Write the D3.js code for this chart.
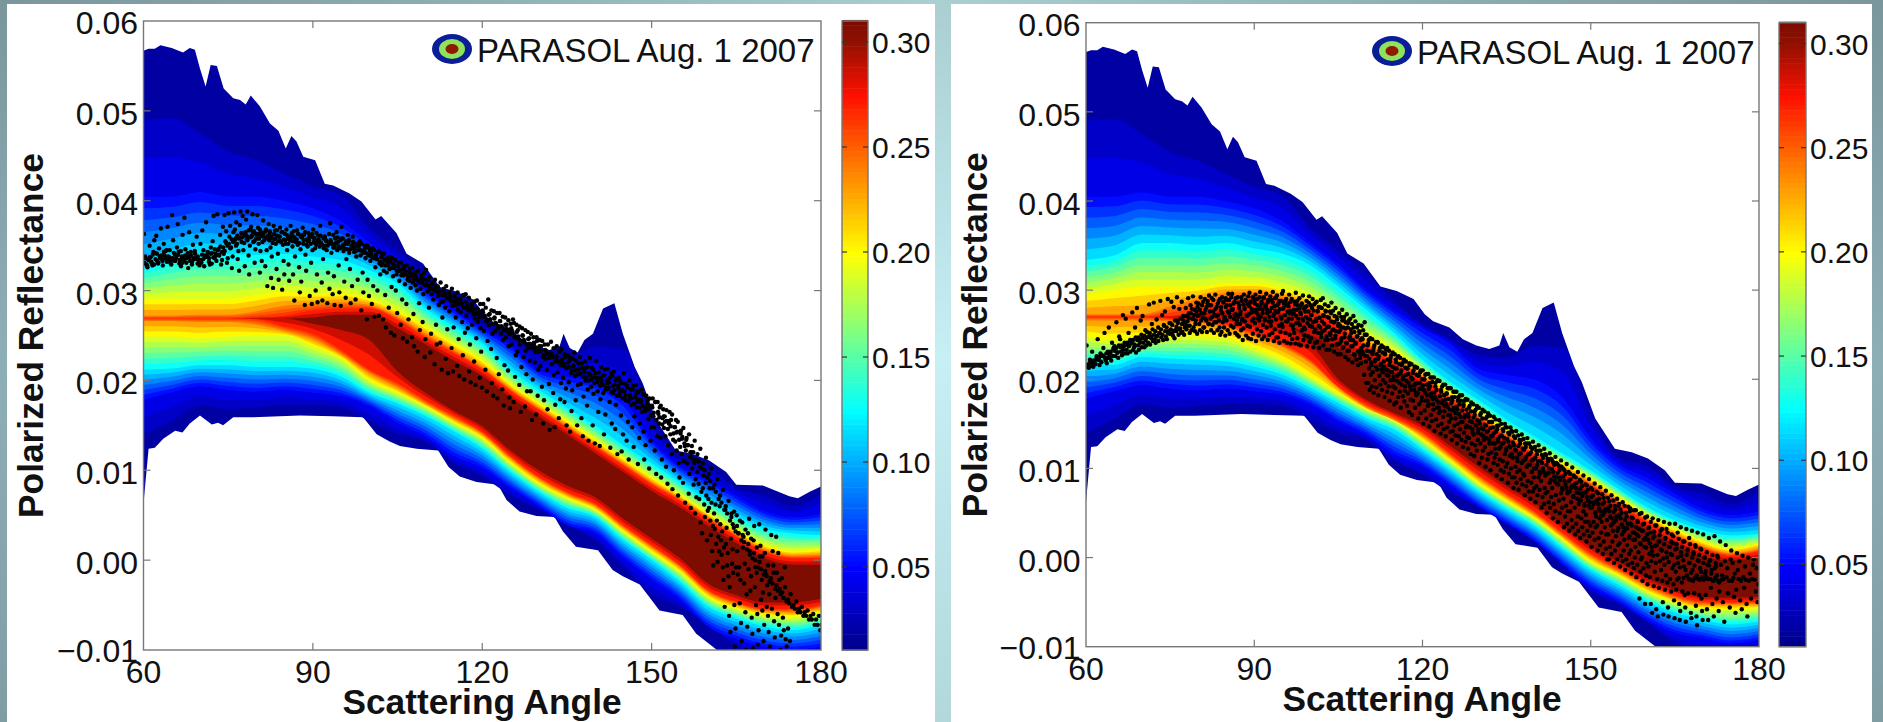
<!DOCTYPE html>
<html><head><meta charset="utf-8">
<script src="https://cdn.jsdelivr.net/npm/d3@7"></script>
<style>html,body{margin:0;padding:0;background:#bfe5ea}svg{display:block}text{font-family:"Liberation Sans",Arial,sans-serif;fill:#111}</style>
</head><body><svg id="c" width="1883" height="722"></svg>
<script>
// ---------- data ----------
const xTicks=[60,90,120,150,180];
const yTicks=[-0.01,0,0.01,0.02,0.03,0.04,0.05,0.06];
const cbTicks=[0.05,0.10,0.15,0.20,0.25,0.30];
const legendLabel="PARASOL Aug. 1 2007";
const xTitle="Scattering Angle", yTitle="Polarized Reflectance";

const envUpperA=[60,60.9,62,63,65,67,68.2,69.1,70,71,71.9,73,74.2,75.9,77.1,78.1,79,80.6,82.4,83.9,85.2,86.2,87.1,88.3,90.4,92.1,93.6,96.5,98.6,101.1,102.1,104.8,106.6,109.5,112.5,115.4,118.4,120.4,121.9,124.8,127.2,129.6,131.9,133.7,134.4,135.5,136.9,138.1,139.6,141.4,143.4,144.9,147,148.4,150.8,154.3,157.3,160.2,163.2,165,169.7,174.4,175.9,178,180];
const envUpperY=[.0567,.0569,.0569,.0573,.0570,.0565,.0570,.0568,.0547,.0527,.0551,.0550,.0525,.0514,.0512,.0507,.0517,.0505,.0486,.0478,.0458,.0472,.0466,.0449,.0445,.0419,.0417,.0408,.0399,.0379,.0383,.0364,.0341,.0330,.0304,.0299,.0290,.0273,.0265,.0258,.0245,.0238,.0234,.0238,.0252,.0236,.0231,.0245,.0252,.0280,.0286,.0252,.0215,.0197,.0156,.0122,.0118,.0111,.0098,.0084,.0083,.0071,.0069,.0076,.0082];
const envLowerA=[60,60.9,62,63.5,65.6,66.9,68.2,70,72.1,73.2,74.1,75.9,79.4,87.7,93.6,98.9,101.3,103.6,105.4,108.4,112.2,114,116,119,122.8,124.3,126.6,129.6,132.8,134.3,136.6,140.5,143.1,144.9,147.9,151.4,155.5,157.9,162.6,180];
const envLowerY=[.0063,.0124,.0125,.0135,.0144,.0142,.0152,.0161,.0151,.0153,.0150,.0159,.0159,.0161,.0160,.0159,.0140,.0132,.0127,.0124,.0122,.0104,.0093,.0087,.0084,.0067,.0054,.0049,.0048,.0032,.0015,.0011,-.0011,-.0018,-.0027,-.0056,-.0061,-.0082,-.0105,-.0105];

const levelAngles=[60,65,70,75,80,85,90,95,100,105,110,115,120,125,130,135,140,145,150,155,160,165,170,175,180];
const levelValues=[0.03,0.05,0.125,0.20,0.24,0.27,0.30];

// contour 0.03 and 0.05, upper side (same in both panels)
const up03=[.0490,.0492,.0475,.0455,.0445,.0430,.0416,.0406,.0370,.0345,.0318,.0288,.0262,.0245,.0228,.0224,.0238,.0235,.0160,.0112,.0103,.0080,.0072,.0060,.0074];
const up05=[.0405,.0405,.0410,.0405,.0405,.0400,.0392,.0378,.0354,.0330,.0301,.0278,.0258,.0240,.0212,.0205,.0200,.0180,.0135,.0105,.0090,.0072,.0055,.0048,.0052];
const lo03=[.0140,.0155,.0172,.0168,.0170,.0172,.0172,.0170,.0155,.0140,.0132,.0108,.0093,.0072,.0057,.0040,.0022,-.0008,-.0038,-.0052,-.0072,-.0095,-.0105,-.0105,-.0105];

// left panel contours
const leftUp125=[.0325,.0334,.0341,.0341,.0340,.0341,.0338,.0334,.0323,.0308,.0280,.0260,.0241,.0212,.0190,.0170,.0150,.0128,.0108,.0087,.0066,.0049,.0035,.0030,.0028];
const leftUp20=[.0291,.0291,.0291,.0291,.0295,.0299,.0297,.0297,.0291,.0278,.0260,.0241,.0223,.0196,.0175,.0155,.0134,.0113,.0092,.0073,.0052,.0033,.0017,.0010,.0012];
const leftUp24=[.0272,.0272,.0273,.0273,.0277,.0283,.0285,.0287,.0284,.0271,.0252,.0234,.0215,.0191,.0170,.0150,.0129,.0108,.0087,.0069,.0048,.0029,.0012,.0005,.0006];
const leftUp27=[.0269,.0269,.0269,.0269,.0270,.0272,.0278,.0280,.0280,.0267,.0247,.0230,.0212,.0188,.0167,.0147,.0126,.0105,.0084,.0066,.0045,.0026,.0009,.0002,.0002];
const leftUp30=[.0269,.0269,.0269,.0269,.0269,.0269,.0270,.0273,.0273,.0258,.0240,.0222,.0205,.0181,.0160,.0140,.0119,.0098,.0077,.0059,.0038,.0019,.0002,-.0005,-.0005];
const leftLo30=[.0269,.0269,.0269,.0269,.0269,.0269,.0263,.0256,.0245,.0210,.0186,.0166,.0149,.0122,.0100,.0083,.0070,.0046,.0024,.0002,-.0026,-.0039,-.0047,-.0047,-.0043];
const leftLo27=[.0269,.0269,.0269,.0269,.0268,.0260,.0252,.0234,.0212,.0197,.0178,.0161,.0143,.0116,.0093,.0076,.0063,.0039,.0017,-.0005,-.0033,-.0046,-.0054,-.0054,-.0050];
const leftLo24=[.0266,.0266,.0265,.0265,.0262,.0255,.0246,.0229,.0208,.0192,.0174,.0157,.0140,.0113,.0090,.0073,.0060,.0036,.0014,-.0008,-.0036,-.0049,-.0057,-.0058,-.0053];
const leftLo20=[.0249,.0249,.0247,.0249,.0250,.0250,.0238,.0225,.0200,.0186,.0171,.0153,.0136,.0108,.0085,.0069,.0056,.0032,.0009,-.0013,-.0041,-.0054,-.0061,-.0063,-.0058];
const leftLo125=[.0212,.0213,.0217,.0217,.0215,.0215,.0213,.0204,.0186,.0174,.0160,.0143,.0124,.0098,.0076,.0058,.0048,.0022,.0000,-.0024,-.0052,-.0065,-.0074,-.0078,-.0072];
const leftLo05=[.0178,.0186,.0193,.0189,.0187,.0189,.0186,.0182,.0171,.0152,.0137,.0115,.0102,.0080,.0060,.0039,.0030,.0002,-.0022,-.0044,-.0074,-.0088,-.0097,-.0100,-.0097];

// right panel contours
const rightUp125=[.0334,.0339,.0353,.0353,.0351,.0353,.0347,.0341,.0328,.0304,.0278,.0252,.0222,.0197,.0177,.0155,.0136,.0117,.0098,.0077,.0057,.0042,.0031,.0025,.0027];
const rightUp20=[.0295,.0300,.0304,.0304,.0304,.0308,.0308,.0302,.0291,.0272,.0250,.0233,.0209,.0185,.0164,.0143,.0123,.0106,.0089,.0068,.0048,.0032,.0018,.0010,.0016];
const rightUp24=[.0273,.0273,.0273,.0282,.0290,.0297,.0298,.0293,.0282,.0264,.0241,.0224,.0204,.0180,.0159,.0138,.0118,.0101,.0084,.0063,.0043,.0027,.0013,.0005,.0010];
const rightUp27=[.0270,.0270,.0270,.0271,.0276,.0284,.0290,.0286,.0277,.0259,.0236,.0218,.0201,.0177,.0156,.0135,.0115,.0098,.0081,.0060,.0040,.0024,.0010,.0002,.0007];
const rightUp30=[.0270,.0270,.0270,.0270,.0272,.0270,.0265,.0262,.0250,.0235,.0220,.0208,.0192,.0167,.0147,.0126,.0106,.0089,.0072,.0051,.0031,.0015,.0001,-.0003,.0000];
const rightLo30=[.0270,.0270,.0270,.0270,.0272,.0270,.0265,.0262,.0240,.0200,.0177,.0162,.0148,.0125,.0102,.0080,.0061,.0036,.0012,-.0005,-.0023,-.0036,-.0044,-.0045,-.0044];
const rightLo27=[.0270,.0270,.0270,.0268,.0266,.0262,.0252,.0240,.0222,.0192,.0172,.0158,.0141,.0117,.0093,.0072,.0052,.0028,.0005,-.0012,-.0029,-.0042,-.0049,-.0050,-.0049];
const rightLo24=[.0266,.0266,.0266,.0265,.0263,.0258,.0248,.0236,.0218,.0190,.0168,.0154,.0137,.0113,.0089,.0068,.0048,.0024,.0001,-.0016,-.0033,-.0046,-.0053,-.0053,-.0052];
const rightLo20=[.0248,.0244,.0246,.0248,.0248,.0246,.0235,.0222,.0203,.0184,.0167,.0154,.0132,.0108,.0083,.0063,.0044,.0020,-.0005,-.0020,-.0038,-.0050,-.0057,-.0058,-.0057];
const rightLo125=[.0216,.0216,.0225,.0223,.0222,.0220,.0214,.0205,.0190,.0173,.0156,.0143,.0121,.0098,.0074,.0054,.0035,.0010,-.0014,-.0031,-.0049,-.0062,-.0070,-.0075,-.0072];
const rightLo05=[.0178,.0186,.0193,.0189,.0187,.0189,.0186,.0182,.0171,.0152,.0137,.0115,.0102,.0080,.0057,.0038,.0018,-.0008,-.0033,-.0050,-.0070,-.0085,-.0091,-.0097,-.0093];

// satellite dots: one list per whole degree (60..), reflectance in units of 1e-4
const dotStart=60;
const leftDots=[
[363,338,329,326,334],[350,337,331,328,343,356],[342,361,333,330,347,336],[369,335,328,352,339,344],[345,371,334,337,331,329],[384,356,333,340,336,348],[374,343,330,334,327,338,362],[335,381,346,331,338,325],[365,333,339,329,351,336],[344,336,360,330,334,328],
[352,331,367,335,327,339],[376,338,342,332,329,348],[330,355,383,336,341,333],[385,346,339,362,329,334],[371,341,384,355,366,331,336],[386,360,372,348,325,338,365],[387,368,358,376,352,335,344,322],[373,388,364,359,383,345,353,327],[365,379,357,388,360,339,318,350,368],[371,361,385,354,366,331,346,358],
[362,384,370,352,358,320,344,365,333],[354,378,364,359,327,368,345,305],[361,374,356,366,348,314,338,358,303],[372,357,367,352,324,361,341,312],[360,370,355,365,301,351,333,318],[363,352,368,345,358,329,311,356],[372,356,364,349,318,360,289,338,354],[355,367,351,363,326,298,346,310],[359,370,352,362,284,340,322,357],[349,364,356,294,360,331,285,345],
[368,354,358,347,300,351,318,287,361],[356,349,372,353,309,289,335,347],[360,350,356,345,286,320,352,302],[375,355,342,352,296,348,316,284,358],[352,365,345,354,328,298,347,283],[371,349,358,344,310,352,292,335],[346,362,354,342,324,286,350,305],[360,347,343,352,290,338,349,312],[352,345,355,339,278,344,320,298],[343,350,336,348,268,312,340,294],
[347,333,341,285,337,305,345,271],[326,339,335,300,343,272,330,318],[342,328,337,268,322,334,295,259],[320,336,330,281,324,333,253,304],[336,316,329,250,327,300,318,275],[322,331,311,323,262,317,290,247],[317,327,307,321,285,243,312,268],[311,324,303,318,248,309,274,238],[320,306,315,300,232,311,286,256],[302,317,309,265,296,313,226,246],
[323,306,299,312,281,303,231,252],[296,309,290,301,218,305,262,240],[305,294,284,299,242,287,212,270],[288,302,297,281,224,292,257,208],[298,277,293,288,236,283,210,259],[295,284,270,290,216,279,246,205],[291,276,286,265,228,281,201,253],[296,272,283,258,278,210,240,198],[285,262,280,274,221,269,195,247],[289,265,277,270,203,258,232,192],
[278,285,255,272,212,266,188,244],[290,262,274,268,235,197,252,183],[277,270,255,263,225,180,258,207],[275,266,252,260,190,245,172,217],[270,248,262,255,211,238,181,169],[263,240,255,268,176,249,204,228],[262,232,256,246,195,240,165,215],[258,250,226,243,171,233,207,188],[254,236,247,222,188,240,156,201],[248,241,220,232,162,244,183,212],
[234,245,216,238,193,226,152,178],[240,224,233,212,168,229,196,145],[231,243,218,227,186,206,148,173],[226,238,209,221,158,233,179,197],[235,220,203,216,176,226,191,150],[214,228,198,222,143,208,166,189],[224,216,231,205,178,212,150,195],[219,207,226,196,158,214,138,182],[212,221,200,215,172,190,133,208],[225,206,193,214,150,185,203,130],
[208,222,199,188,165,203,127,179],[215,196,205,186,140,212,162,192],[200,213,191,198,176,125,208,152],[205,186,210,195,146,173,202,118],[194,203,183,199,161,121,189,140],[208,188,196,178,133,192,154,112],[200,181,190,173,148,194,126,160],[184,195,170,188,107,178,136,152],[176,190,165,185,143,112,170,128],[183,168,178,157,102,172,133,148],
[172,180,160,148,122,176,96,138],[176,163,152,170,136,92,112,158],[168,147,160,138,104,155,85,128],[152,165,140,156,118,79,134,100],[148,132,156,122,143,72,108,92],[126,144,118,137,86,110,130,64],[122,136,108,128,74,96,115,58],[120,102,113,84,108,52,90,70],[98,110,85,68,104,42,76,30],[80,94,62,48,86,72,22,55],
[68,58,80,44,28,64,10,38,-6],[52,35,62,18,44,-2,26,10],[60,40,22,6,32,-8,-22,14,-52],[56,18,36,-6,8,-18,-62,-30,-80],[24,52,-4,12,-14,36,-50,-96,-76,-8],[50,10,-16,30,-8,-48,-22,-70,-90],[42,14,26,-26,-4,-58,-100,-38,-74],[30,-10,46,6,-34,-18,-64,-82,-98],[22,38,-30,-8,-50,-14,-60,-94,-78],[40,4,16,-44,-22,-56,-36,-90,-72],
[8,34,-16,-52,-28,-62,-80,-38,-96],[-22,28,-54,10,-6,-68,-86,-42],[26,-14,-60,8,-72,-32,-100,-84],[-20,-64,-78,-8,-88,-96],[-76,-90,-102],[],[],[],[],[]
];
// the dense streak of the left panel
const leftCore=[
[331,336,328,334],[337,332,340,329],[335,341,331,338],[339,333,343,336],[332,338,345,335],[336,342,333,339],[340,334,344,331],[333,339,336,342],[337,343,332,335],[341,335,338,333],
[334,340,345,337],[338,343,336,341],[342,337,346,339],[345,340,349,343],[348,344,353,350],[352,347,357,354],[356,350,361,358],[359,354,364,361],[362,356,367,359],[360,365,355,363],
[358,363,368,361],[361,356,366,359],[357,364,360,353],[363,358,367,355],[360,354,365,357],[356,362,352,359],[361,355,366,358],[357,363,353,360],[362,356,365,351],[355,360,352,363],
[359,353,364,356],[354,361,351,358],[360,355,350,363],[356,352,362,348],[353,359,349,356],[358,351,347,355],[352,356,346,349],[354,348,344,351],[349,345,352,342],[346,342,350,339],
[344,338,347,336],[340,335,344,332],[337,331,341,328],[333,328,337,325],[330,325,334,322],[327,322,331,319],[324,319,328,316],[320,316,325,312],[317,312,322,309],[314,309,319,306],
[311,306,315,302],[307,302,312,299],[304,298,309,295],[300,295,305,291],[297,292,302,288],[293,288,298,285],[290,285,295,281],[287,281,292,278],[283,278,288,274],[280,275,285,271],
[276,271,281,267],[273,268,278,263],[269,264,275,260],[266,260,271,256],[262,257,267,252],[258,253,264,248],[254,249,260,244],[250,245,256,240],[246,241,252,236],[242,237,248,232],
[238,233,244,228],[234,230,240,225],[230,226,236,221],[227,222,232,217],[223,218,229,214],[220,215,225,211],[216,211,222,207],[213,208,219,204],[209,204,215,200],[206,201,212,197],
[203,198,209,194],[200,195,206,190],[197,192,203,187],[194,189,200,183],[191,186,197,180],[188,183,194,177],[184,180,190,174],[181,176,187,170],[178,172,184,166],[174,168,180,161],
[170,164,176,156],[165,159,172,151],[160,154,167,146],[155,149,162,141],[148,142,154,134],[141,135,147,127],[134,128,140,120],[127,120,133,112],[118,110,124,102],[108,100,114,92],
[96,88,102,80],[84,76,90,68],[72,64,78,56],[60,52,66,44],[48,40,54,32],[38,30,44,22],[28,20,34,12],[18,10,24,2],[8,0,14,-8],[-2,-10,4,-16],
[-12,-18,-6,-24],[-20,-26,-14,-32],[-28,-34,-22,-38],[-36,-42,-30,-46],[-44,-48,-38,-52],[-50,-54,-46,-58],[-54,-58,-52,-62],[-58,-62,-56,-66],[-62,-66,-60,-72],[-66,-72,-62,-78],
[-72,-78,-68,-84],[-78,-84,-74,-90],[-84,-90,-80,-96]
];
const rightDots=[
[238,216,213,222,218],[231,214,220,217,226],[245,222,216,229,219,226],[235,252,221,218,224],[258,224,230,221,241,226,235],[237,226,264,230,224,248],[245,231,227,272,237,229],[268,233,229,252,238,231],[242,275,233,236,258,230],[280,238,233,244,266,236],
[271,241,236,255,238,247],[241,284,239,248,262,243],[286,245,241,267,249,243],[252,288,247,272,244,260],[276,248,245,290,254,251],[263,287,251,249,281,246,255],[254,292,266,250,279,257,252],[287,253,271,250,262,280,256],[260,291,274,252,283,255,268],[293,258,278,254,266,286,251,271],
[285,262,255,292,274,253,269,258],[258,290,278,266,253,285,262,294],[283,268,255,291,261,276,252,272],[295,264,281,255,272,288,258,250],[277,253,292,264,286,258,270,249,281],[266,289,255,296,274,251,283,260,278],[296,279,258,268,287,252,273,262,250],[292,270,248,283,262,276,255,288,266,244],[257,295,280,265,289,249,272,260,284,246],[273,297,259,286,245,279,266,251,291,276],
[288,263,295,243,275,256,283,268,249,279,292],[298,270,254,285,245,278,261,291,248,266,282],[281,296,258,274,244,287,265,250,276,293,260],[265,289,252,298,271,243,282,256,277,291,247],[294,275,247,285,260,241,279,253,288,268,296],[259,299,280,243,272,288,252,265,283,241,276],[285,268,295,250,277,240,261,290,245,273,256],[274,252,287,240,297,263,278,246,283,268,239],[291,261,275,238,283,255,268,294,244,279,249],[256,281,270,288,237,263,248,276,293,242,267],
[283,246,272,259,290,236,277,253,265,241,286],[265,287,242,276,252,281,235,269,258,289,247],[280,254,291,238,271,262,284,244,276,233,258],[270,244,282,259,233,276,250,265,286,238,255],[277,264,231,271,246,280,254,239,267,228,260],[262,274,240,255,228,270,246,278,235,258,267],[270,251,225,264,241,273,232,258,222,266,246],[248,268,256,237,262,219,244,271,228,253,240],[265,240,222,258,248,216,261,232,252,228,244],[218,260,246,231,255,238,205,264,226,250,196],
[250,226,238,196,244,212,188,231,205,219,192],[245,208,232,185,238,199,222,214,191,228,242],[241,182,226,204,235,194,217,211,188,230,199],[236,214,180,228,196,233,205,186,222,210,192],[232,176,220,199,227,208,184,214,192,203,172],[228,190,222,174,212,198,225,180,206,217,186],[224,168,210,194,218,181,203,221,175,187,213],[220,198,170,212,184,206,163,216,192,177,202],[217,160,200,176,210,188,214,168,195,182,205],[213,184,156,204,172,196,208,162,190,176,200],
[210,150,188,200,165,205,176,156,194,182,170],[206,172,147,192,202,160,184,153,197,178,166],[202,142,180,196,155,188,168,199,148,174,162],[198,164,139,186,150,192,176,158,144,182,170],[194,136,172,184,146,190,160,178,152,166,141],[190,156,132,176,142,186,168,148,180,137,162],[186,128,166,150,180,136,172,144,158,176,132],[182,152,124,170,140,176,160,130,146,166,135],[177,122,158,134,170,146,116,164,128,152,140],[172,138,114,160,126,166,148,120,154,132,144],
[168,106,150,128,162,138,112,156,120,144,132],[164,124,102,148,134,158,110,142,116,152,128],[159,98,136,118,152,128,146,106,140,112,122],[155,116,92,144,104,130,148,122,110,136,98],[150,88,128,108,142,96,134,116,146,102,122],[146,106,84,130,94,138,114,124,100,142,90],[141,112,78,126,90,134,102,120,84,96,108],[137,76,116,98,128,88,132,106,82,122,94],[133,92,70,110,124,80,102,128,86,116,74],[128,104,66,118,84,96,122,74,110,90,78],
[124,62,100,80,116,70,108,90,120,76,94],[120,86,56,106,68,112,96,60,78,116,72],[115,50,94,74,108,62,100,84,56,111,68],[110,78,44,96,60,104,86,52,70,106,90],[105,40,82,64,98,50,90,72,102,56,76],[100,66,34,86,46,94,58,78,38,72,52],[96,30,74,52,88,62,42,80,34,68,92],[91,56,26,78,38,84,66,46,30,60,72],[87,22,64,44,80,34,72,52,26,58,40],[82,48,18,68,30,76,40,58,24,62,36],
[78,12,56,28,70,40,62,20,50,34,46],[74,36,8,60,22,66,44,14,52,28,40],[71,4,48,18,62,34,54,10,26,42,-2],[67,26,-2,52,12,58,36,4,44,18,30],[64,-6,40,8,54,24,46,-2,30,14,58],[60,16,-10,44,2,50,26,-4,34,8,20],[58,-14,32,-2,46,14,38,-8,22,4,52],[55,8,-18,36,-6,44,20,-12,28,0,12],[53,-22,26,-8,40,6,32,-46,16,-16,-2],[50,0,-26,30,-12,38,12,-52,22,-20,-6],
[46,-30,20,-10,34,4,-22,28,-52,-4,12,-62],[44,2,-32,24,-16,36,-6,-58,14,-24,-66],[42,-34,18,-4,30,-14,8,-26,-50,-64],[40,-8,-36,22,-20,32,0,-28,-56,-66,12],[38,-24,4,-38,26,-12,16,-30,-48,-68],[38,-16,-36,10,-25,28,-6,-23,-52,-70,-60],[34,2,-28,-38,18,-23,-10,-42,-56,-72],[32,-20,8,-40,-24,22,-6,-25,-62,-68],[30,-14,-26,4,-40,-23,14,-54,-66,-76],[28,-24,-4,-42,-25,10,-16,-46,-60,-70],
[26,-25,0,-18,-42,-22,-58,-8,-70],[22,-4,-24,-34,-14,-52,-26,-66],[24,-23,-10,-46,2,-26,-60,-38],[18,-8,-25,-20,-50,-24,-72,-4],[14,-22,-12,-40,-26,-56,-2],[8,-26,-6,-23,-44,-18,-62,-36],[5,-14,-24,-4,-48,-26,-58],[2,-22,-34,-10,-25,-52,-66],[0,-26,-18,-46,-24,-8],[-2,-25,-38,-12,-50,-30]
];
// the dense streak of the right panel
const rightCore=[
[214,216,218,215],[219,221,217,224],[222,225,220,227],[226,224,229,231],[228,231,226,234],[232,235,230,238],[236,238,233,241],[239,241,237,244],[241,244,239,247],[244,247,241,250],
[246,249,244,253],[248,252,246,256],[250,254,248,258],[252,256,250,261],[254,258,252,263],[256,261,254,266],[259,263,256,268],[262,266,258,271],[265,269,260,274,279],[268,272,262,276,281],
[272,278,266,283,287],[274,268,281,288,262],[276,283,270,289,264],[279,271,285,266,290],[281,274,287,268,291],[283,276,289,270,292],[278,285,272,291,266],[286,280,273,292,268],[284,279,288,271,293],[282,287,275,292,268],
[285,278,290,272,266],[281,287,274,292,268],[284,278,289,270,264],[280,286,273,291,267],[283,276,288,270,262],[279,285,272,290,265],[282,274,287,268,260],[278,284,271,288,263],[280,273,285,266,258],[276,282,268,286,260],
[272,280,264,284,256],[268,277,260,281,251],[265,272,255,277,248],[259,269,252,274,245],[256,264,249,270,239],[253,260,243,266,236],[247,257,240,263,232],[244,252,237,258,227],[241,248,231,254,224],[235,245,228,250,220],
[232,240,223,246,216],[228,235,220,242,211],[223,232,216,238,208],[220,229,211,235,204],[216,224,208,230,199],[212,219,204,226,196],[207,216,200,222,192],[205,212,196,218,188],[201,207,193,214,185],[196,204,189,210,180],
[193,200,185,206,176],[189,196,181,202,172],[185,192,177,198,168],[181,188,173,194,164],[177,184,169,190,160],[173,180,165,186,156],[169,176,161,182,152],[165,172,157,178,148],[161,168,153,174,144],[157,164,149,170,140],
[153,160,145,166,136],[149,156,141,162,132],[145,152,137,158,128],[141,148,133,154,124],[137,144,129,150,120],[133,140,125,146,116],[129,136,121,142,112],[125,132,117,138,108],[121,128,113,134,104],[116,124,109,130,100],
[112,120,104,126,96],[108,115,100,122,92],[104,111,95,117,87],[99,107,91,113,83],[95,103,87,109,78],[91,98,82,105,74],[86,94,78,101,69],[82,90,73,96,65],[77,85,69,92,60],[73,81,64,88,56],
[68,76,60,83,51],[64,72,55,79,47],[60,67,51,75,42],[55,63,46,70,38],[51,58,42,66,33],[47,54,37,62,29],[42,50,33,57,24],[38,45,28,53,20],[34,41,24,49,15],[30,37,20,45,11],
[26,33,16,40,7],[22,29,13,36,3],[18,25,9,32,-1],[15,21,6,28,-5],[12,18,3,24,-8],[9,15,0,21,-11],[6,12,-3,18,-14],[3,9,-6,15,-17],[0,6,-9,12,-20],[-3,3,-12,9,-22],
[-6,0,-15,6,-24],[-9,-3,-18,3,-26],[-12,-6,-20,0,-28]
];

// ---------- drawing ----------
const svg=d3.select('#c');
const defs=svg.append('defs');
const gx=defs.append('linearGradient').attr('id','bgx');
[[0,'#8eaeb6'],[.25,'#a6cbd2'],[.5,'#c6f0f4'],[.75,'#a6cbd2'],[1,'#8eaeb6']].forEach(s=>gx.append('stop').attr('offset',s[0]).attr('stop-color',s[1]));
const gy=defs.append('linearGradient').attr('id','bgy').attr('x2',0).attr('y2',1);
[[0,.14],[.5,0],[1,.1]].forEach(s=>gy.append('stop').attr('offset',s[0]).attr('stop-color','#000').attr('stop-opacity',s[1]));
defs.append('filter').attr('id','soft').attr('x','-2%').attr('y','-2%').attr('width','104%').attr('height','104%')
  .append('feGaussianBlur').attr('stdDeviation',.7);
svg.append('rect').attr('width',1883).attr('height',722).attr('fill','url(#bgx)');
svg.append('rect').attr('width',1883).attr('height',722).attr('fill','url(#bgy)');
svg.append('rect').attr('x',7).attr('y',4).attr('width',928).attr('height',718).attr('fill','#fff');
svg.append('rect').attr('x',951).attr('y',4).attr('width',921).attr('height',718).attr('fill','#fff');

const jet=d3.scaleLinear().domain([.0105,.048,.123,.198,.273,.30,.31]).range(['#00008c','#0000ff','#00ffff','#ffff00','#ff1000','#8c1000','#7c0a00']).clamp(true);
const subSteps=[2,6,6,3,3,2];

function panel(o){
  const x=d3.scaleLinear().domain([60,180]).range([o.left,o.right]);
  const y=d3.scaleLinear().domain([-0.01,0.06]).range([o.bottom,o.top]);
  const cb=d3.scaleLinear().domain([0.0105,0.31]).range([o.bottom,o.top]);
  const g=svg.append('g');
  const clipId='clip'+o.id;
  defs.append('clipPath').attr('id',clipId).append('rect').attr('x',o.left).attr('y',o.top).attr('width',o.right-o.left).attr('height',o.bottom-o.top);
  const field=g.append('g').attr('clip-path',`url(#${clipId})`).append('g').attr('filter','url(#soft)');
  const upPts=envUpperA.map((a,i)=>[x(a),y(envUpperY[i])]);
  const loPts=envLowerA.map((a,i)=>[x(a),y(envLowerY[i])]);
  field.append('path').attr('d',d3.line()(upPts.concat(loPts.reverse()))+'Z').attr('fill',jet(.018));
  const area=d3.area().x(d=>x(d.a)).y0(d=>y(d.lo)).y1(d=>y(d.up)).curve(d3.curveMonotoneX);
  const draw=(v,up,lo)=>field.append('path').datum(levelAngles.map((a,i)=>({a,up:up[i],lo:lo[i]}))).attr('d',area).attr('fill',jet(v));
  o.levels.forEach((L,k)=>{
    if(k===o.levels.length-1){draw(.31,L.up,L.lo);return;}
    const N=o.levels[k+1], n=subSteps[k];
    for(let s=0;s<n;s++){
      const t=s/n;
      draw(L.v+(N.v-L.v)*t,L.up.map((u,i)=>u+(N.up[i]-u)*t),L.lo.map((u,i)=>u+(N.lo[i]-u)*t));
    }
  });
  const dg=g.append('g').attr('clip-path',`url(#${clipId})`);
  o.dots.forEach(list=>list.forEach((col,i)=>col.forEach((v,k)=>{
    dg.append('circle').attr('cx',x(dotStart+i+(k+.5)/col.length)).attr('cy',y(v/1e4)).attr('r',o.r).attr('fill','#000');
  })));
  const axisC='#777';
  g.append('rect').attr('x',o.left).attr('y',o.top).attr('width',o.right-o.left).attr('height',o.bottom-o.top).attr('fill','none').attr('stroke',axisC).attr('stroke-width',1.4);
  const tk=(x1,y1,x2,y2)=>g.append('line').attr('x1',x1).attr('y1',y1).attr('x2',x2).attr('y2',y2).attr('stroke',axisC).attr('stroke-width',1.2);
  xTicks.slice(1,-1).forEach(v=>{tk(x(v),o.bottom,x(v),o.bottom-7);tk(x(v),o.top,x(v),o.top+7);});
  yTicks.slice(1,-1).forEach(v=>{tk(o.left,y(v),o.left+7,y(v));tk(o.right,y(v),o.right-7,y(v));});
  xTicks.forEach(v=>g.append('text').attr('x',x(v)).attr('y',o.bottom+33).attr('text-anchor','middle').attr('font-size',32).text(v));
  yTicks.forEach(v=>g.append('text').attr('x',o.left-5.5).attr('y',y(v)+(v===0.06?13:(v===-0.01?12:14))).attr('text-anchor','end').attr('font-size',32).text(d3.format('.2f')(v).replace('-','\u2212')));
  g.append('text').attr('x',o.xTitleX).attr('y',o.xTitleY).attr('text-anchor','middle').attr('font-size',o.titleSize).attr('font-weight','bold').text(xTitle);
  g.append('text').attr('transform',`translate(${o.yTitleX},${(o.top+o.bottom)/2}) rotate(-90)`).attr('text-anchor','middle').attr('font-size',o.titleSize).attr('font-weight','bold').text(yTitle);
  const lx=o.legendX, ly=o.legendY;
  [[20,15,'#0a1f96'],[13,10,'#8ee25c'],[6.5,5,'#8f1a00']].forEach(e=>g.append('ellipse').attr('cx',lx).attr('cy',ly).attr('rx',e[0]).attr('ry',e[1]).attr('fill',e[2]));
  g.append('text').attr('x',lx+25).attr('y',ly+13).attr('font-size',33).text(legendLabel);
  const steps=d3.range(0.0105,0.31,0.0025);
  g.selectAll(null).data(steps).join('rect').attr('x',o.cbLeft).attr('width',o.cbRight-o.cbLeft)
    .attr('y',d=>cb(d+0.0025)).attr('height',d=>cb(d)-cb(d+0.0025)+.5).attr('fill',d=>jet(d));
  g.append('rect').attr('x',o.cbLeft).attr('y',o.top).attr('width',o.cbRight-o.cbLeft).attr('height',o.bottom-o.top).attr('fill','none').attr('stroke',axisC).attr('stroke-width',1.4);
  cbTicks.forEach(v=>{
    tk(o.cbLeft,cb(v),o.cbLeft+5,cb(v)).attr('stroke','#333');tk(o.cbRight,cb(v),o.cbRight-5,cb(v)).attr('stroke','#333');
    g.append('text').attr('x',o.cbRight+4).attr('y',cb(v)+11).attr('font-size',30).text(d3.format('.2f')(v));
  });
}

const mk=(u,l)=>levelValues.map((v,i)=>({v,up:u[i],lo:l[i]}));
panel({id:'L',left:143.5,right:821,top:21,bottom:650,cbLeft:842,cbRight:868,r:2.2,dots:[leftDots,leftCore],
  xTitleX:482,xTitleY:714,yTitleX:43,titleSize:35.3,legendX:452,legendY:49,
  levels:mk([up03,up05,leftUp125,leftUp20,leftUp24,leftUp27,leftUp30],[lo03,leftLo05,leftLo125,leftLo20,leftLo24,leftLo27,leftLo30])});
panel({id:'R',left:1086,right:1759,top:22.7,bottom:646.7,cbLeft:1779,cbRight:1806,r:2.2,dots:[rightDots,rightCore],
  xTitleX:1422,xTitleY:711,yTitleX:987,titleSize:35.3,legendX:1392,legendY:51,
  levels:mk([up03,up05,rightUp125,rightUp20,rightUp24,rightUp27,rightUp30],[lo03,rightLo05,rightLo125,rightLo20,rightLo24,rightLo27,rightLo30])});
</script></body></html>
